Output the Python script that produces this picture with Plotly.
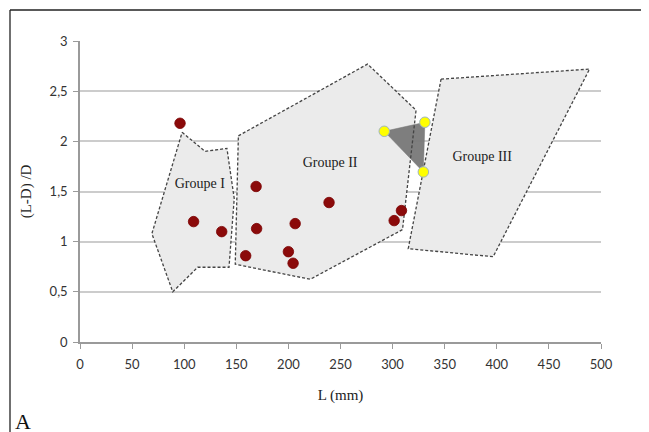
import plotly.graph_objects as go

# ---- data ----
red_x = [96, 109, 136, 169, 169.5, 159, 206.5, 200, 204.5, 239, 308.5, 301.5]
red_y = [2.18, 1.20, 1.10, 1.55, 1.13, 0.86, 1.18, 0.90, 0.785, 1.39, 1.31, 1.21]

yellow_x = [292, 331, 329.5]
yellow_y = [2.10, 2.19, 1.695]

g1_x = [98, 120, 141, 148, 143, 113, 89, 69, 98]
g1_y = [2.09, 1.90, 1.93, 1.43, 0.745, 0.745, 0.50, 1.08, 2.09]

g2_x = [152, 276, 322.5, 309.5, 221, 149, 152]
g2_y = [2.055, 2.77, 2.31, 1.12, 0.625, 0.775, 2.055]

g3_x = [346.5, 489, 396.5, 315, 346.5]
g3_y = [2.62, 2.72, 0.85, 0.93, 2.62]

group_names = ["Groupe I", "Groupe II", "Groupe III"]
label_x = [115, 240, 386]
label_y = [1.57, 1.78, 1.84]

x_ticks = [0, 50, 100, 150, 200, 250, 300, 350, 400, 450, 500]
y_ticks = [0, 0.5, 1, 1.5, 2, 2.5, 3]
y_ticklabels = ["0", "0,5", "1", "1,5", "2", "2,5", "3"]

x_title = "L (mm)"
y_title = "(L-D) /D"
panel_letter = "A"

# ---- figure (page body adds an 8px offset) ----
W, H = 641, 424
ml, mt = 72, 33
pw, ph = 521, 301
mr, mb = W - ml - pw, H - mt - ph

fig = go.Figure()

poly_fill = "rgba(235,235,235,1)"
for gx, gy in [(g1_x, g1_y), (g2_x, g2_y), (g3_x, g3_y)]:
    fig.add_trace(go.Scatter(x=gx, y=gy, mode="lines", fill="toself",
                             fillcolor=poly_fill, line=dict(width=0),
                             hoverinfo="skip", showlegend=False))

# dark triangle between yellow points
fig.add_trace(go.Scatter(x=yellow_x + [yellow_x[0]], y=yellow_y + [yellow_y[0]],
                         mode="lines", fill="toself",
                         fillcolor="rgba(120,120,120,0.95)",
                         line=dict(width=0.5, color="#777777"),
                         hoverinfo="skip", showlegend=False))

for gx, gy in [(g1_x, g1_y), (g2_x, g2_y), (g3_x, g3_y)]:
    fig.add_trace(go.Scatter(x=gx, y=gy, mode="lines",
                             line=dict(color="#444444", width=1.3, dash="3px,2px"),
                             hoverinfo="skip", showlegend=False))

fig.add_trace(go.Scatter(x=red_x, y=red_y, mode="markers",
                         marker=dict(size=10.5, color="#8B0A0A",
                                     line=dict(width=0.8, color="#7a0000")),
                         showlegend=False))
fig.add_trace(go.Scatter(x=yellow_x, y=yellow_y, mode="markers",
                         marker=dict(size=10.5, color="#FFFF00",
                                     line=dict(width=1, color="#9fb5c0")),
                         showlegend=False))

fig.add_trace(go.Scatter(x=label_x, y=label_y, mode="text", text=group_names,
                         textfont=dict(family="Liberation Serif", size=14, color="#222222"),
                         showlegend=False, hoverinfo="skip"))

# frame lines (top and left border of the figure)
fx0 = (2 - ml) / pw
fy0 = (H - mb - 2) / ph
fig.add_shape(type="line", xref="paper", yref="paper",
              x0=fx0, x1=(W - ml) / pw, y0=fy0, y1=fy0,
              line=dict(color="#222222", width=1.3))
fig.add_shape(type="line", xref="paper", yref="paper",
              x0=fx0, x1=fx0, y0=fy0, y1=-(mb) / ph,
              line=dict(color="#222222", width=1.3))

fig.add_annotation(text=panel_letter, xref="paper", yref="paper",
                   x=(5 - ml) / pw, y=(H - mb - 428) / ph,
                   xanchor="left", yanchor="bottom", showarrow=False,
                   font=dict(family="Liberation Serif", size=22, color="#111111"))

fig.update_layout(
    width=W, height=H,
    margin=dict(l=ml, r=mr, t=mt, b=mb),
    paper_bgcolor="white", plot_bgcolor="white",
    showlegend=False,
    xaxis=dict(range=[0, 500], tickvals=x_ticks, showgrid=False, zeroline=False,
               showline=True, linecolor="#9a9a9a", linewidth=1.5,
               ticks="outside", ticklen=5, tickcolor="#9a9a9a", tickwidth=1.3,
               ticklabelstandoff=5,
               tickfont=dict(family="Lato", size=13, color="#333333"),
               title=dict(text=x_title, standoff=18,
                          font=dict(family="Liberation Serif", size=15, color="#222222"))),
    yaxis=dict(range=[0, 3], tickvals=y_ticks, ticktext=y_ticklabels,
               showgrid=True, gridcolor="#cccccc", gridwidth=1.5, zeroline=False,
               showline=True, linecolor="#9a9a9a", linewidth=1.5,
               ticks="outside", ticklen=5, tickcolor="#9a9a9a", tickwidth=1.3,
               ticklabelstandoff=3,
               tickfont=dict(family="Lato", size=13, color="#333333"),
               title=dict(text=y_title, standoff=14,
                          font=dict(family="Liberation Serif", size=15, color="#222222"))),
)

fig.write_html("out.html", config={"displayModeBar": False},
               post_script="document.documentElement.style.overflow='hidden';document.body.style.overflow='hidden';")
